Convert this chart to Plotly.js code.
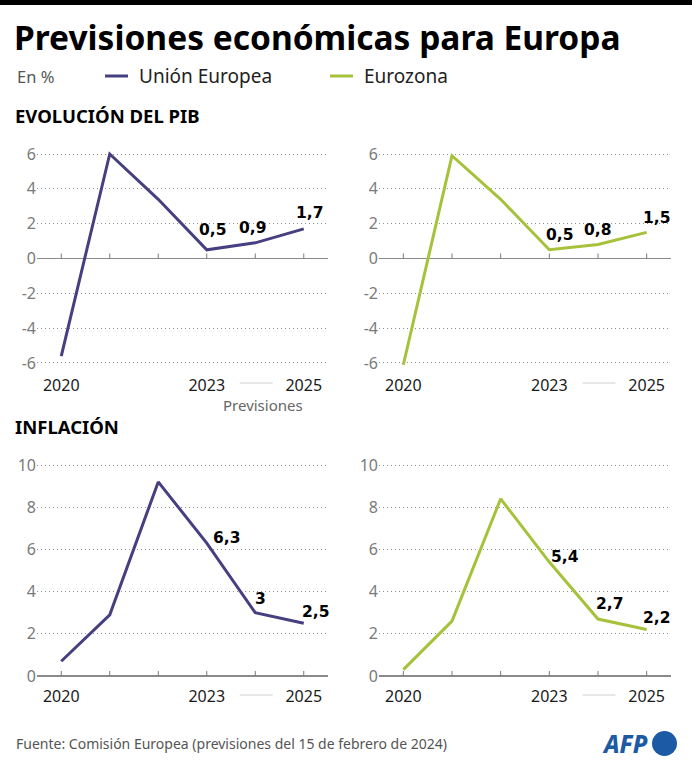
<!DOCTYPE html>
<html>
<head>
<meta charset="utf-8">
<script src="https://cdn.plot.ly/plotly-3.0.1.min.js"></script>
<style>
  html, body { margin: 0; padding: 0; background: #fff; }
  #chart { width: 692px; height: 768px; }
</style>
</head>
<body>
<div id="chart"></div>
<script>
// Years covered (2024 and 2025 are forecasts)
const years = [2020, 2021, 2022, 2023, 2024, 2025];
const yearTickVals = [2020, 2023, 2025];
const yearTickText = ['2020', '2023', '2025'];

// GDP growth, %
const gdpEU = [-5.6, 6.0, 3.4, 0.5, 0.9, 1.7];
const gdpEZ = [-6.1, 5.9, 3.4, 0.5, 0.8, 1.5];

// Inflation, %
const inflEU = [0.7, 2.9, 9.2, 6.3, 3.0, 2.5];
const inflEZ = [0.3, 2.6, 8.4, 5.4, 2.7, 2.2];

const gdpTicks = [-6, -4, -2, 0, 2, 4, 6];
const inflTicks = [0, 2, 4, 6, 8, 10];

const seriesNames = ['Unión Europea', 'Eurozona'];

const W = 692, H = 768;
const COL_EU = '#463f80';
const COL_EZ = '#a6c13a';
const FONT = 'Noto Sans, Open Sans, sans-serif';
const LABEL_FONT = 'DejaVu Sans, sans-serif';

const px = x => x / W;
const py = y => 1 - y / H;

// pixel boxes of the four panels
const colLeft = [37, 328], colRight = [379, 671];
const rowTop = [145.3, 371.7], rowBottom = [456.6, 680.2];

function line(x, y, color, xa, ya, name) {
  return {
    type: 'scatter', mode: 'lines', x: x, y: y, xaxis: xa, yaxis: ya,
    name: name, showlegend: false, hoverinfo: 'x+y',
    line: { color: color, width: 3, shape: 'linear' }
  };
}

const data = [
  line(years, gdpEU, COL_EU, 'x', 'y', seriesNames[0]),
  line(years, gdpEZ, COL_EZ, 'x2', 'y2', seriesNames[1]),
  line(years, inflEU, COL_EU, 'x3', 'y3', seriesNames[0]),
  line(years, inflEZ, COL_EZ, 'x4', 'y4', seriesNames[1])
];

function xAxis(col, anchor, standoff) {
  return {
    domain: [px(col[0]), px(col[1])], anchor: anchor,
    range: [2019.5, 2025.5], showgrid: false, zeroline: false, showline: false,
    tickmode: 'array', tickvals: yearTickVals, ticktext: yearTickText,
    ticks: '', ticklabelstandoff: standoff,
    tickfont: { family: FONT, size: 16, color: '#1a1a1a' },
    fixedrange: true
  };
}
function yAxis(row, anchor, range, ticks) {
  return {
    domain: [py(row[1]), py(row[0])], anchor: anchor, range: range,
    tickmode: 'array', tickvals: ticks, ticktext: ticks.map(String),
    showgrid: true, gridcolor: '#8f8f8f', griddash: '1px,3px', gridwidth: 1,
    zeroline: true, zerolinecolor: '#8a8a8a', zerolinewidth: 1.5,
    showline: false, ticks: '',
    tickfont: { family: FONT, size: 16, color: '#7a7a7a' },
    fixedrange: true
  };
}

const shapes = [];
const annotations = [];

// black band across the top
shapes.push({ type: 'rect', xref: 'paper', yref: 'paper', x0: 0, x1: 1, y0: py(5), y1: 1,
  fillcolor: '#000', line: { width: 0 } });

// small year ticks on the zero line of each panel
[['x', 'y', 383], ['x2', 'y2', 383], ['x3', 'y3', 695], ['x4', 'y4', 695]].forEach(([xa, ya, labelY]) => {
  years.forEach(yr => {
    shapes.push({ type: 'line', xref: xa, yref: ya, x0: yr, x1: yr,
      ysizemode: 'pixel', yanchor: 0, y0: 0, y1: 5,
      line: { color: '#7a7a7a', width: 1 } });
  });
  // faint connector between the 2023 and 2025 labels (forecast span)
  shapes.push({ type: 'line', xref: xa, yref: 'paper', x0: 2023.68, x1: 2024.36,
    y0: py(labelY), y1: py(labelY),
    line: { color: '#cfcfcf', width: 1 } });
});

// legend swatches
shapes.push({ type: 'line', xref: 'paper', yref: 'paper', x0: px(105), x1: px(128), y0: py(76), y1: py(76),
  line: { color: COL_EU, width: 3 } });
shapes.push({ type: 'line', xref: 'paper', yref: 'paper', x0: px(330), x1: px(353), y0: py(76), y1: py(76),
  line: { color: COL_EZ, width: 3 } });

// AFP roundel
shapes.push({ type: 'circle', xref: 'paper', yref: 'paper', x0: px(652), x1: px(677), y0: py(756), y1: py(731),
  fillcolor: '#1d5aa6', line: { width: 0 } });

function text(str, x, y, opts) {
  annotations.push(Object.assign({
    text: str, xref: 'paper', yref: 'paper', x: px(x), y: py(y),
    xanchor: 'left', yanchor: 'middle', showarrow: false,
    font: { family: FONT, size: 16, color: '#222' }
  }, opts || {}));
}

text('Previsiones económicas para Europa', 12, 37, { font: { family: FONT, size: 33.5, color: '#000', weight: 700 } });
text('En %', 15, 76, { font: { family: FONT, size: 16.5, color: '#555' } });
text(seriesNames[0], 137, 76, { font: { family: FONT, size: 19, color: '#222' } });
text(seriesNames[1], 362, 76, { font: { family: FONT, size: 19, color: '#222' } });
text('EVOLUCIÓN DEL PIB', 13, 116, { font: { family: FONT, size: 18.5, color: '#000', weight: 700 } });
text('INFLACIÓN', 13, 426, { font: { family: FONT, size: 18.5, color: '#000', weight: 700 } });
text('Previsiones', 263, 405, { xanchor: 'center', font: { family: FONT, size: 15, color: '#666' } });
text('Fuente: Comisión Europea (previsiones del 15 de febrero de 2024)', 14, 743,
  { font: { family: FONT, size: 14, color: '#555' } });
text('AFP', 650, 743, { xanchor: 'right', font: { family: FONT, size: 24, color: '#1d5aa6', weight: 800, style: 'italic' } });

// value labels on the forecast years
const fmt = v => String(v).replace('.', ',');
function valueLabels(vals, xa, ya, offsets) {
  [3, 4, 5].forEach((i, k) => {
    annotations.push({
      text: '<b>' + fmt(vals[i]) + '</b>', xref: xa, yref: ya, x: years[i], y: vals[i],
      xshift: offsets[k][0], yshift: offsets[k][1], showarrow: false,
      xanchor: 'center', yanchor: 'middle',
      font: { family: LABEL_FONT, size: 15.5, color: '#000' }
    });
  });
}
valueLabels(gdpEU, 'x', 'y', [[6, 20], [-3, 15], [6, 16]]);
valueLabels(gdpEZ, 'x2', 'y2', [[10, 15], [-1, 15], [10, 14]]);
valueLabels(inflEU, 'x3', 'y3', [[20, 5], [5, 14], [12, 11]]);
valueLabels(inflEZ, 'x4', 'y4', [[16, 5], [11, 15], [10, 12]]);

const layout = {
  width: W, height: H,
  margin: { l: 0, r: 0, t: 0, b: 0 },
  paper_bgcolor: '#fff', plot_bgcolor: 'rgba(0,0,0,0)',
  showlegend: false,
  xaxis: xAxis(colLeft, 'y', 2),
  yaxis: yAxis(rowTop, 'x', [-6.5, 6.5], gdpTicks),
  xaxis2: xAxis(colRight, 'y2', 2),
  yaxis2: yAxis(rowTop, 'x2', [-6.5, 6.5], gdpTicks),
  xaxis3: xAxis(colLeft, 'y3', 5),
  yaxis3: yAxis(rowBottom, 'x3', [-0.2, 10.4], inflTicks),
  xaxis4: xAxis(colRight, 'y4', 5),
  yaxis4: yAxis(rowBottom, 'x4', [-0.2, 10.4], inflTicks),
  shapes: shapes,
  annotations: annotations
};

Plotly.newPlot('chart', data, layout, { displayModeBar: false, staticPlot: true });
</script>
</body>
</html>
